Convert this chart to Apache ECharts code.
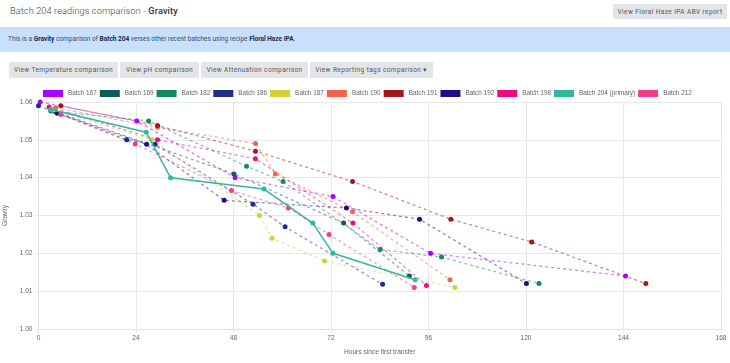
<!DOCTYPE html>
<html>
<head>
<meta charset="utf-8">
<script src="https://cdn.jsdelivr.net/npm/echarts@6/dist/echarts.min.js"></script>
<style>
  html, body { margin:0; padding:0; width:730px; height:363px; overflow:hidden; background:#fff; font-family:Roboto, "Liberation Sans", sans-serif; }
  #title { position:absolute; left:10px; top:5px; font-size:9.2px; font-weight:300; color:#444; letter-spacing:0.1px; }
  #title b { font-weight:500; color:#333; }
  .btn { position:absolute; background:#e3e5e8; color:#555; font-size:6.5px; letter-spacing:0.4px; font-weight:400; display:flex; align-items:center; justify-content:center; box-sizing:border-box; white-space:nowrap; }
  #info { position:absolute; left:0; top:27px; width:730px; height:25px; background:#c9e0fc; color:#3a4a66; font-size:6.5px; line-height:25px; box-sizing:border-box; padding-left:8px; white-space:nowrap; }
  #info b { color:#1a2a4a; font-weight:700; }
  #chart { position:absolute; left:0; top:85px; width:730px; height:278px; }
</style>
</head>
<body>
<div id="title">Batch 204 readings comparison - <b>Gravity</b></div>
<div class="btn" style="left:613px;top:4px;width:114px;height:15px;">View Floral Haze IPA ABV report</div>
<div id="info">This is a <b>Gravity</b> comparison of <b>Batch 204</b> verses other recent batches using recipe <b>Floral Haze IPA</b>.</div>
<div class="btn" style="left:9px;top:62px;width:109px;height:15.5px;">View Temperature comparison</div>
<div class="btn" style="left:120px;top:62px;width:79px;height:15.5px;">View pH comparison</div>
<div class="btn" style="left:201px;top:62px;width:107px;height:15.5px;">View Attenuation comparison</div>
<div class="btn" style="left:310px;top:62px;width:123px;height:15.5px;">View Reporting tags comparison &#9662;</div>
<div id="chart"></div>
<script>
// Axis
const xTicks = { min: 0, max: 168, interval: 24 };
const yTicks = { min: 1.00, max: 1.06, interval: 0.01 };

// Series data: [hours since first transfer, gravity]
const batch167 = [[0.4,1.060],[24.2,1.055],[48.4,1.040],[72.5,1.035],[96.5,1.020],[144.5,1.014]];
const batch169 = [[4.0,1.0575],[48.1,1.041],[75.1,1.028],[91.3,1.014]];
const batch182 = [[3.0,1.0576],[27.1,1.055],[51.2,1.043],[60.2,1.039],[84.1,1.021],[99.2,1.019],[123.2,1.012]];
const batch186 = [[0.0,1.059],[21.7,1.050],[28.7,1.0488],[52.8,1.033],[60.7,1.027],[84.7,1.0118]];
const batch187 = [[3.9,1.0579],[27.9,1.050],[54.4,1.030],[57.5,1.024],[70.4,1.018],[102.5,1.011]];
const batch190 = [[4.2,1.0585],[29.3,1.0533],[53.4,1.049],[58.3,1.041],[77.3,1.031],[101.3,1.013]];
const batch191 = [[5.5,1.059],[29.3,1.0538],[53.4,1.047],[77.3,1.039],[101.5,1.029],[121.4,1.023],[149.5,1.012]];
const batch192 = [[4.6,1.057],[26.6,1.0488],[45.7,1.034],[75.8,1.032],[93.8,1.029],[120.1,1.012]];
const batch198 = [[2.6,1.0587],[29.3,1.050],[53.4,1.045],[77.4,1.028],[95.5,1.0115]];
const batch204 = [[3.0,1.058],[26.5,1.052],[32.5,1.040],[55.5,1.037],[67.5,1.028],[72.5,1.020],[92.7,1.013]];
const batch212 = [[5.5,1.0567],[23.8,1.0489],[47.5,1.0366],[61.5,1.032],[71.5,1.025],[92.5,1.011]];

const names = ['Batch 167','Batch 169','Batch 182','Batch 186','Batch 187','Batch 190','Batch 191','Batch 192','Batch 198','Batch 204 (primary)','Batch 212'];
const colors = ['#aa00ff','#0f5b5a','#168a5e','#1f2d86','#d4d03a','#f4614f','#a3161e','#230a8c','#ee0a82','#2db8a0','#f23d8f'];
const datasets = [batch167,batch169,batch182,batch186,batch187,batch190,batch191,batch192,batch198,batch204,batch212];

const chart = echarts.init(document.getElementById('chart'));
const FONT = '"Liberation Sans", Arial, sans-serif';
const series = names.map((n, i) => {
  const primary = n.indexOf('primary') >= 0;
  return {
    name: n,
    type: 'line',
    data: datasets[i],
    symbol: 'circle',
    symbolSize: 5,
    showSymbol: true,
    z: primary ? 5 : 2,
    itemStyle: { color: colors[i] },
    lineStyle: primary ? { color: colors[i], width: 1.5, type: 'solid' }
                       : { color: colors[i], width: 1.3, type: [3, 3], opacity: 0.5 },
    emphasis: { disabled: true },
    animation: false
  };
});

chart.setOption({
  animation: false,
  textStyle: { fontFamily: FONT },
  legend: {
    left: 43, top: 5, padding: 0, width: 690,
    icon: 'rect',
    itemWidth: 20, itemHeight: 7, itemGap: 3,
    textStyle: { fontSize: 6.4, color: '#666', fontFamily: FONT },
    data: names
  },
  grid: { left: 38.5, right: 9, top: 17, bottom: 34, containLabel: false, outerBoundsMode: 'none' },
  xAxis: {
    type: 'value', min: xTicks.min, max: xTicks.max, interval: xTicks.interval,
    name: 'Hours since first transfer', nameLocation: 'middle', nameGap: 20,
    nameTextStyle: { fontSize: 6.6, color: '#666', fontFamily: FONT },
    axisLine: { show: true, lineStyle: { color: '#e0e0e0', width: 1 } },
    axisTick: { show: true, length: 4, lineStyle: { color: '#e6e6e6' } },
    axisLabel: { fontSize: 6.6, color: '#666', margin: 6, fontFamily: FONT },
    splitLine: { show: true, lineStyle: { color: '#e8e8e8', width: 1 } }
  },
  yAxis: {
    type: 'value', min: yTicks.min, max: yTicks.max, interval: yTicks.interval,
    name: 'Gravity', nameLocation: 'middle', nameGap: 24,
    nameTextStyle: { fontSize: 6.6, color: '#666', fontFamily: FONT },
    axisLine: { show: true, lineStyle: { color: '#e0e0e0', width: 1 } },
    axisTick: { show: true, length: 3, lineStyle: { color: '#e6e6e6' } },
    axisLabel: { fontSize: 6.6, color: '#666', margin: 6, fontFamily: FONT, formatter: v => v.toFixed(2) },
    splitLine: { show: true, lineStyle: { color: '#e8e8e8', width: 1 } }
  },
  series: series
});
</script>
</body>
</html>
